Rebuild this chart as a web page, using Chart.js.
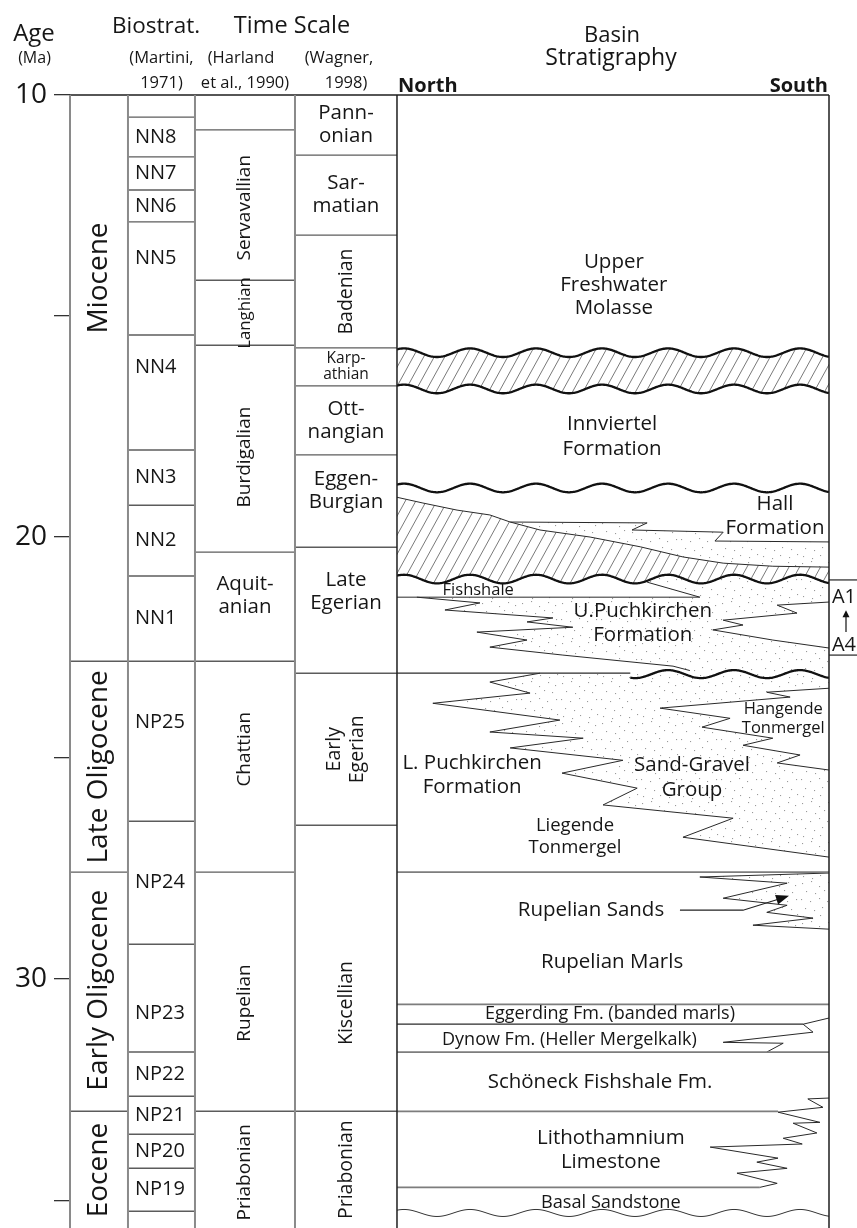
<!DOCTYPE html>
<html>
<head>
<meta charset="utf-8">
<script src="https://cdn.jsdelivr.net/npm/chart.js@4.4.1/dist/chart.umd.min.js"></script>
<style>
  html, body { margin: 0; padding: 0; background: #fff; }
  #wrap { width: 857px; height: 1228px; }
</style>
</head>
<body>
<div id="wrap"><canvas id="strat" width="857" height="1228"></canvas></div>
<script>
// ---------- age axis (Ma) ----------
const AGE_TOP = 10;
const AGE_BOTTOM = 35.63;
const ageTicks = [10, 15, 20, 25, 30, 35];
const ageTickLabels = ['10', '', '20', '', '30', ''];

// ---------- epochs ----------
const epochNames = ['Miocene', 'Late Oligocene', 'Early Oligocene', 'Eocene'];
const epochBases = [22.81, 27.58, 32.99, 35.63];

// ---------- nannoplankton zones (Martini, 1971) ----------
const nannoZones = ['', 'NN8', 'NN7', 'NN6', 'NN5', 'NN4', 'NN3', 'NN2', 'NN1',
  'NP25', 'NP24', 'NP23', 'NP22', 'NP21', 'NP20', 'NP19', ''];
const nannoBases = [10.50, 11.40, 12.15, 12.87, 15.43, 18.03, 19.28, 20.88, 22.81,
  26.43, 29.21, 31.65, 32.65, 33.51, 34.28, 35.25, 35.63];

// ---------- stages (Harland et al., 1990) ----------
const harlandStages = ['', 'Servavallian', 'Langhian', 'Burdigalian', 'Aquit-\nanian',
  'Chattian', 'Rupelian', 'Priabonian'];
const harlandBases = [10.79, 14.19, 15.66, 20.34, 22.81, 27.58, 32.99, 35.63];

// ---------- Paratethys stages (Wagner, 1998) ----------
const wagnerStages = ['Pann-\nonian', 'Sar-\nmatian', 'Badenian', 'Karp-\nathian',
  'Ott-\nnangian', 'Eggen-\nBurgian', 'Late\nEgerian', 'Early\nEgerian', 'Kiscellian', 'Priabonian'];
const wagnerBases = [11.36, 13.17, 15.72, 16.58, 18.14, 20.23, 23.08, 26.52, 32.99, 35.63];

// ---------- basin section: [distance N->S (0..100), age Ma] ----------
const erosionSurfaces = [15.83, 16.65, 18.89, 20.95];           // full width
const erosionSurfacePartial = { age: 23.10, from: 54, to: 100 };
const basalSurface = 35.29;

const eggenburgTop = [[0, 19.10], [6.0, 19.23], [13.9, 19.39], [21.5, 19.50], [26.2, 19.66],
  [33.1, 19.84], [44.7, 20.00], [56.3, 20.22], [66.2, 20.45], [75.5, 20.59], [87.0, 20.66], [100, 20.68]];
const hallSandTop = [[26.2, 19.66], [57.9, 19.68], [54.4, 19.84], [75.5, 19.89], [73.6, 20.09], [100, 20.11]];
const fishshaleBase = [[0, 21.36], [70.1, 21.36], [57.9, 21.02]];
const upperPuchLeft = [[4.6, 21.36], [19.2, 21.49], [11.1, 21.65], [36.1, 21.83], [30.1, 21.92],
  [40.7, 22.04], [18.5, 22.15], [30.1, 22.33], [21.5, 22.49], [38.4, 22.67], [63.9, 22.92], [67.8, 23.02]];
const upperPuchRight = [[100, 21.47], [88.0, 21.54], [92.6, 21.72], [75.5, 21.88], [80.1, 21.99],
  [73.1, 22.10], [87.0, 22.33], [100, 22.51]];
const sandGravelLeft = [[33.1, 23.08], [21.5, 23.28], [30.8, 23.53], [8.3, 23.76], [37.7, 24.14],
  [21.5, 24.41], [43.1, 24.55], [26.2, 24.77], [52.3, 25.05], [38.2, 25.34], [55.6, 25.68],
  [47.7, 26.06], [77.8, 26.36], [66.2, 26.79], [100, 27.24]];
const sandGravelRight = [[100, 23.42], [85.6, 23.51], [91.0, 23.62], [60.9, 23.87], [77.1, 24.10],
  [70.6, 24.30], [87.0, 24.55], [80.1, 24.71], [93.3, 24.93], [88.0, 25.11], [100, 25.27]];
const rupelianSands = [[100, 27.60], [70.1, 27.69], [90.3, 27.83], [75.5, 28.17], [90.3, 28.33],
  [85.6, 28.49], [96.3, 28.62], [82.4, 28.78], [100, 28.87]];
const dynowTongue = [[100, 30.88], [94.0, 31.02], [96.3, 31.20], [75.5, 31.43], [89.4, 31.45], [85.6, 31.65]];
const lithoTongue = [[100, 32.69], [95.1, 32.71], [98.6, 32.90], [88.2, 33.01], [97.9, 33.24],
  [91.7, 33.26], [97.2, 33.48], [89.4, 33.60], [93.8, 33.73], [72.5, 33.80], [88.2, 34.05],
  [83.3, 34.14], [90.3, 34.28], [78.7, 34.39], [88.0, 34.62], [84.0, 34.71]];
// flat contacts: [age, from, to]
const flatContacts = [[23.08, 0, 54], [27.58, 0, 100], [30.57, 0, 100], [31.02, 0, 94.0],
  [31.65, 0, 100], [32.99, 0, 88.2], [34.71, 0, 84.0]];
const rupelianSandsPointer = [[65.5, 28.44], [80.1, 28.44], [90.3, 28.13]];

const basinUnits = [
  'Upper\nFreshwater\nMolasse', 'Innviertel\nFormation', 'Hall\nFormation', 'Fishshale',
  'U.Puchkirchen\nFormation', 'Hangende\nTonmergel', 'L. Puchkirchen\nFormation',
  'Sand-Gravel\nGroup', 'Liegende\nTonmergel', 'Rupelian Sands', 'Rupelian Marls',
  'Eggerding Fm. (banded marls)', 'Dynow Fm. (Heller Mergelkalk)', 'Schöneck Fishshale Fm.',
  'Lithothamnium\nLimestone', 'Basal Sandstone'];

// sequence range A1-A4
const cycleNames = ['A1', 'A4'];
const cycleLabelAges = [21.36, 22.44];
const cycleLimits = [20.97, 22.67];

// ---------- layout ----------
const COL = { epoch: [-75.69, -62.27], nanno: [-62.27, -46.76], harland: [-46.76, -23.61],
  wagner: [-23.61, 0], basin: [0, 100] };
const epochLabelAt = [14.14, 25.20, 30.25, 34.32];
const nannoLabelAt = { NN5: 13.69, NN4: 16.15, NP25: 24.19, NP23: 30.77 };
const harlandLabelAt = { 'Servavallian': 12.55, 'Langhian': 14.93, 'Burdigalian': 18.19,
  'Aquit-\nanian': 21.33, 'Chattian': 24.80, 'Rupelian': 30.54, 'Priabonian': 34.37 };
const wagnerLabelAt = { 'Eggen-\nBurgian': 18.94, 'Late\nEgerian': 21.24, 'Kiscellian': 30.54 };
const rotatedNames = new Set(['Servavallian', 'Langhian', 'Burdigalian', 'Chattian', 'Rupelian',
  'Priabonian', 'Badenian', 'Early\nEgerian', 'Kiscellian']);
const compactNames = { 'Karp-\nathian': [15.5, 16], 'Langhian': [16.8, 18] };
// [x (0..100), age, font size, line height]
const basinLabelLayout = [
  [50.2, 14.30, 20.5, 23], [49.8, 17.73, 20.5, 25], [87.5, 19.52, 20.5, 24], [18.8, 21.20, 16.5, 18],
  [56.9, 21.95, 20.5, 24], [89.4, 24.10, 16.5, 19], [17.4, 25.38, 20.5, 24], [68.3, 25.45, 20.5, 25],
  [41.2, 26.79, 18.5, 22], [44.9, 28.44, 20.5, 24], [49.8, 29.62, 20.5, 24], [49.3, 30.79, 18, 22],
  [39.9, 31.38, 18, 22], [47.0, 32.33, 20.5, 24], [49.5, 33.87, 20.5, 24], [49.5, 35.05, 18.2, 22]];

const FONT = '"Open Sans", "DejaVu Sans", sans-serif';
const INK = '#161616';

function stipplePattern(ctx) {
  const tile = document.createElement('canvas');
  tile.width = 40; tile.height = 40;
  const t = tile.getContext('2d');
  t.fillStyle = '#9a9a9a';
  const dots = [[2,3],[11,1],[19,6],[28,2],[35,5],[6,11],[15,13],[24,10],[32,12],[1,19],
    [10,21],[19,18],[27,21],[36,19],[5,28],[14,30],[22,27],[31,29],[3,36],[12,38],[20,35],[29,37],[37,34]];
  dots.forEach(([x, y]) => t.fillRect(x, y, 1.1, 1.1));
  return ctx.createPattern(tile, 'repeat');
}

function drawText(ctx, str, x, y, size, opt = {}) {
  const lines = str.split('\n');
  ctx.save();
  ctx.font = `${opt.weight || 'normal'} ${size}px ${FONT}`;
  ctx.fillStyle = INK;
  ctx.textAlign = opt.align || 'center';
  ctx.textBaseline = opt.baseline || 'middle';
  ctx.translate(x, y);
  if (opt.rotate) ctx.rotate(-Math.PI / 2);
  const lh = opt.lh || size * 1.2;
  lines.forEach((ln, i) => ctx.fillText(ln, 0, (i - (lines.length - 1) / 2) * lh));
  ctx.restore();
}

const stratPlugin = {
  id: 'strat',
  beforeDraw(chart) {
    const c = chart.ctx;
    c.save(); c.fillStyle = '#fff'; c.fillRect(0, 0, chart.width, chart.height); c.restore();
  },
  afterDraw(chart) {
    const ctx = chart.ctx;
    const xs = chart.scales.x, ys = chart.scales.y;
    const X = v => xs.getPixelForValue(v);
    const Y = a => ys.getPixelForValue(a);
    const area = chart.chartArea;
    const waveLen = X(15.28) - X(0), wavePhase = X(9.26);

    const wave = (age, f0, f1, amp) => {
      const y0 = Y(age), a = X(f0), b = X(f1), pts = [];
      for (let px = a; px < b; px += 1) pts.push([px, y0 + amp * Math.cos(2 * Math.PI * (px - wavePhase) / waveLen)]);
      pts.push([b, y0 + amp * Math.cos(2 * Math.PI * (b - wavePhase) / waveLen)]);
      return pts;
    };
    const toPx = pts => pts.map(p => [X(p[0]), Y(p[1])]);
    const trace = (pts, start = true) => pts.forEach((p, i) => (i === 0 && start) ? ctx.moveTo(p[0], p[1]) : ctx.lineTo(p[0], p[1]));
    const strokeLine = (pts, color, w) => {
      ctx.save(); ctx.beginPath(); trace(pts); ctx.strokeStyle = color; ctx.lineWidth = w;
      ctx.lineJoin = 'miter'; ctx.stroke(); ctx.restore();
    };

    // ---- time columns ----
    const column = (names, bases, col, labelAt, opts) => {
      const x0 = X(col[0]), x1 = X(col[1]);
      let top = AGE_TOP;
      names.forEach((name, i) => {
        const base = bases[i];
        if (base < AGE_BOTTOM) strokeLine([[x0, Y(base)], [x1, Y(base)]], '#5c5c5c', 1.4);
        if (name) {
          const at = Array.isArray(labelAt) ? labelAt[i] : (labelAt[name] !== undefined ? labelAt[name] : (top + base) / 2);
          const compact = compactNames[name];
          const rot = opts.rotateAll || rotatedNames.has(name);
          const size = compact ? compact[0] : (rot && opts.rotSize ? opts.rotSize : opts.size);
          const lh = compact ? compact[1] : opts.lh;
          if (opts.left) drawText(ctx, name, x0 + 7, Y(at), size, { align: 'left' });
          else drawText(ctx, name, (x0 + x1) / 2, Y(at), size, { rotate: rot, lh });
        }
        top = base;
      });
    };
    column(epochNames, epochBases, COL.epoch, epochLabelAt, { rotateAll: true, size: 28, lh: 30 });
    column(nannoZones, nannoBases, COL.nanno, nannoLabelAt, { left: true, size: 20 });
    column(harlandStages, harlandBases, COL.harland, harlandLabelAt, { size: 20.5, rotSize: 19, lh: 23 });
    column(wagnerStages, wagnerBases, COL.wagner, wagnerLabelAt, { size: 20.5, rotSize: 19.5, lh: 23 });

    // ---- basin fills ----
    ctx.save();
    ctx.beginPath(); ctx.rect(X(0), area.top, X(100) - X(0), area.bottom - area.top); ctx.clip();
    const stip = stipplePattern(ctx);
    const fillStipple = pts => { ctx.beginPath(); trace(toPx(pts)); ctx.closePath(); ctx.fillStyle = stip; ctx.fill(); };
    fillStipple([...hallSandTop, ...eggenburgTop.filter(p => p[0] >= 26.2).reverse()]);
    fillStipple([[57.9, 20.80], [100, 20.80], ...upperPuchRight, [100, 23.12], [67.8, 23.12],
      ...upperPuchLeft.slice().reverse(), [70.1, 21.36], [57.9, 21.02]]);
    fillStipple([[33.1, 23.08], [100, 23.08], ...sandGravelRight, [100, 27.24], ...sandGravelLeft.slice().reverse()]);
    fillStipple(rupelianSands);

    // hiatus hatching
    const hatchRegion = path => {
      ctx.save();
      ctx.beginPath(); trace(path); ctx.closePath();
      ctx.fillStyle = '#fff'; ctx.fill(); ctx.clip();
      const ysArr = path.map(p => p[1]);
      const t = Math.min(...ysArr) - 2, b = Math.max(...ysArr) + 2;
      const k = 0.55;
      ctx.beginPath();
      for (let x = X(0) - (b - t) * k - 20; x < X(100) + 20; x += 10.5) {
        ctx.moveTo(x, b); ctx.lineTo(x + (b - t) * k, t);
      }
      ctx.strokeStyle = '#7a7a7a'; ctx.lineWidth = 1; ctx.stroke();
      ctx.restore();
    };
    const w0 = wave(erosionSurfaces[0], 0, 100, 4.3), w1 = wave(erosionSurfaces[1], 0, 100, 4.3);
    const w3 = wave(erosionSurfaces[3], 0, 100, 4.3);
    hatchRegion([...w0, ...w1.slice().reverse()]);
    hatchRegion([...toPx(eggenburgTop), ...w3.slice().reverse()]);

    // lithological contacts
    [hallSandTop, eggenburgTop, fishshaleBase, upperPuchLeft, upperPuchRight, sandGravelLeft,
      sandGravelRight, rupelianSands, dynowTongue, lithoTongue].forEach(l => strokeLine(toPx(l), '#2a2a2a', 1));
    flatContacts.forEach(([age, f0, f1]) => {
      const dark = f1 < 90 && age < 30 || age === 31.02;
      strokeLine([[X(f0), Y(age)], [X(f1), Y(age)]], dark ? '#2a2a2a' : '#7d7d7d', dark ? 1.2 : 1.8);
    });

    // erosion surfaces
    erosionSurfaces.forEach(a => strokeLine(wave(a, 0, 100, 4.3), '#111', 2.3));
    strokeLine(wave(erosionSurfacePartial.age, erosionSurfacePartial.from, erosionSurfacePartial.to, 4.0), '#111', 2.3);
    strokeLine(wave(basalSurface, 0, 100, 3.5), '#333', 1);
    ctx.restore();

    // pointer to Rupelian Sands
    const pp = toPx(rupelianSandsPointer);
    strokeLine(pp, '#222', 1.1);
    {
      const [ax, ay] = pp[pp.length - 1], [bx, by] = pp[pp.length - 2];
      const ang = Math.atan2(ay - by, ax - bx);
      ctx.save(); ctx.translate(ax, ay); ctx.rotate(ang);
      ctx.beginPath(); ctx.moveTo(2, 0); ctx.lineTo(-11, -5); ctx.lineTo(-11, 5); ctx.closePath();
      ctx.fillStyle = '#111'; ctx.fill(); ctx.restore();
    }

    // ---- frame ----
    strokeLine([[X(COL.epoch[0]), area.top], [X(100), area.top]], '#1e1e1e', 1.6);
    [COL.epoch[0], COL.nanno[0], COL.harland[0], COL.wagner[0]].forEach(v =>
      strokeLine([[X(v), area.top], [X(v), area.bottom]], '#8a8a8a', 2));
    strokeLine([[X(0), area.top], [X(0), area.bottom]], '#1e1e1e', 1.5);
    strokeLine([[X(100), area.top], [X(100), area.bottom]], '#1e1e1e', 1.5);

    // ---- basin labels ----
    basinUnits.forEach((name, i) => {
      const [fx, age, size, lh] = basinLabelLayout[i];
      drawText(ctx, name, X(fx), Y(age), size, { lh });
    });

    // ---- A1-A4 range ----
    const rx0 = X(100), rx1 = chart.width;
    cycleLimits.forEach(a => strokeLine([[rx0, Y(a)], [rx1, Y(a)]], '#222', 1.2));
    cycleNames.forEach((n, i) => drawText(ctx, n, rx0 + 15, Y(cycleLabelAges[i]), 20));
    {
      const ax = rx0 + 17, yTop = Y(cycleLabelAges[0]) + 13, yBot = Y(cycleLabelAges[1]) - 13;
      strokeLine([[ax, yBot], [ax, yTop + 5]], '#111', 1.2);
      ctx.beginPath(); ctx.moveTo(ax, yTop); ctx.lineTo(ax - 3.5, yTop + 7); ctx.lineTo(ax + 3.5, yTop + 7);
      ctx.closePath(); ctx.fillStyle = '#111'; ctx.fill();
    }

    // ---- headings ----
    const nannoMid = (X(COL.nanno[0]) + X(COL.nanno[1])) / 2;
    drawText(ctx, 'Age', 34, 41, 24, { baseline: 'alphabetic' });
    drawText(ctx, '(Ma)', 34.5, 63, 16, { baseline: 'alphabetic' });
    drawText(ctx, 'Biostrat.', 156, 33, 22.5, { baseline: 'alphabetic' });
    drawText(ctx, 'Time Scale', 292, 33, 23.5, { baseline: 'alphabetic' });
    drawText(ctx, '(Martini,', nannoMid, 63, 16.5, { baseline: 'alphabetic' });
    drawText(ctx, '1971)', nannoMid, 88, 16.5, { baseline: 'alphabetic' });
    drawText(ctx, '(Harland', 241, 63, 16.5, { baseline: 'alphabetic' });
    drawText(ctx, 'et al., 1990)', 245, 88, 16.5, { baseline: 'alphabetic' });
    drawText(ctx, '(Wagner,', 339, 63, 16.5, { baseline: 'alphabetic' });
    drawText(ctx, '1998)', 346, 88, 16.5, { baseline: 'alphabetic' });
    drawText(ctx, 'Basin', 612, 42, 22, { baseline: 'alphabetic' });
    drawText(ctx, 'Stratigraphy', 611, 65, 23, { baseline: 'alphabetic' });
    drawText(ctx, 'North', X(0) + 1, 92, 20, { baseline: 'alphabetic', align: 'left', weight: 'bold' });
    drawText(ctx, 'South', X(100) - 1, 92, 20, { baseline: 'alphabetic', align: 'right', weight: 'bold' });
  }
};

new Chart(document.getElementById('strat'), {
  type: 'scatter',
  data: { datasets: [] },
  plugins: [stratPlugin],
  options: {
    responsive: false,
    animation: false,
    events: [],
    devicePixelRatio: 1,
    layout: { padding: { top: 95, right: 28, bottom: 0, left: 0 } },
    plugins: { legend: { display: false }, tooltip: { enabled: false } },
    scales: {
      x: { type: 'linear', min: COL.epoch[0], max: 100, display: false },
      y: {
        type: 'linear', reverse: true, min: AGE_TOP, max: AGE_BOTTOM, position: 'left',
        afterBuildTicks: axis => { axis.ticks = ageTicks.map(v => ({ value: v })); },
        afterFit: axis => { axis.width = 70; axis.paddingTop = 0; axis.paddingBottom = 0; },
        ticks: {
          autoSkip: false, padding: 7, color: INK,
          font: { family: FONT, size: 28 },
          callback: v => { const i = ageTicks.indexOf(v); return i >= 0 ? ageTickLabels[i] : ''; }
        },
        grid: { drawOnChartArea: false, drawTicks: true, tickLength: 16, color: '#333', lineWidth: 1.3 },
        border: { display: false }
      }
    }
  }
});
</script>
</body>
</html>
